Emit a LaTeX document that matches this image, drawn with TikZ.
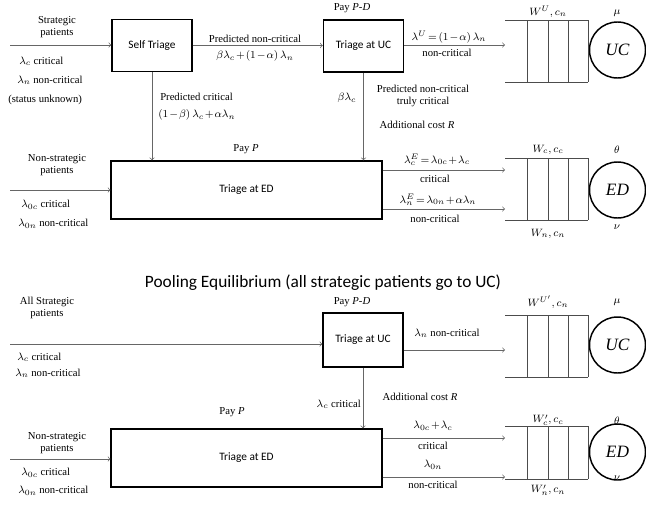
\documentclass[tikz,border=0pt]{standalone}
\usepackage{fontspec}
\setmainfont{Liberation Serif}
\newfontfamily\calibri{Carlito}
\usetikzlibrary{positioning}
\medmuskip=1.5mu
\thickmuskip=2.5mu

\begin{document}
\begin{tikzpicture}
  [x=0.75pt, y=-0.75pt,
   every node/.style={inner sep=0, align=center, font=\fontsize{8}{9.5}\selectfont},
   box/.style={draw, line width=1.1pt, font=\calibri\fontsize{8.5}{10}\selectfont, minimum width=60pt, minimum height=39pt},
   flow/.style={->, draw=black!60, line width=0.5pt},
   queue/.style={draw=black!70, line width=0.4pt},
   server/.style={draw, circle, line width=1.1pt, minimum size=42pt, font=\itshape\fontsize{13}{15}\selectfont}]

  \useasboundingbox (0,0) rectangle (646,507);

  % separating equilibrium
  \node[box] (self) at (152,45.5) {Self Triage};
  \node[box] (uc) at (363.5,46) {Triage at UC};
  \node[box, minimum width=203pt, minimum height=43.5pt] (ed) at (246.5,190) {Triage at ED};
  \node[server] (ucs) at (617.5,50) {UC};
  \node[server] (eds) at (617.5,190) {ED};

  \coordinate (sin) at (10,45);
  \coordinate (nin) at (10,190);
  \coordinate (uq) at (505,45);
  \coordinate (cq) at (505,170);
  \coordinate (nq) at (505,209);

  \draw[flow] (sin) -- (sin -| self.west);
  \draw[flow] (self.east) -- (self.east -| uc.west);
  \draw[flow] (uq -| uc.east) -- (uq);
  \draw[flow] (self.south) -- (self.south |- ed.north);
  \draw[flow] (uc.south) -- (uc.south |- ed.north);
  \draw[flow] (nin) -- (nin -| ed.west);
  \draw[flow] (cq -| ed.east) -- (cq);
  \draw[flow] (nq -| ed.east) -- (nq);

  \draw[queue] (505,20) -- (588,20) (505,82) -- (588,82);
  \foreach \qx in {527,548,568,588} \draw[queue] (\qx,20) -- (\qx,82);
  \draw[queue] (505,158) -- (588,158) (505,220) -- (588,220);
  \foreach \qx in {527,548,568,588} \draw[queue] (\qx,158) -- (\qx,220);

  \node (strat) at (57,27) {Strategic\\patients};
  \node[anchor=west] (lc) at (19,61) {$\lambda_c$ critical};
  \node[anchor=west] (ln) at (17,80) {$\lambda_n$ non-critical};
  \node[anchor=west] (unk) at (8,100) {(status unknown)};
  \node (pnc) at (255,39) {Predicted non-critical};
  \node (pncr) at (255,56) {$\beta\lambda_c+\left(1-\alpha\right)\lambda_n$};
  \node (paypd) at (352,8) {Pay \textit{P-D}};
  \node (lu) at (449,37) {$\lambda^U=\left(1-\alpha\right)\lambda_n$};
  \node (lunc) at (447,53) {non-critical};
  \node (wu) at (548,12) {$W^U, c_n$};
  \node (mu) at (617,13) {$\mu$};
  \node[anchor=west] (pc) at (160,97) {Predicted critical};
  \node[anchor=west] (pcr) at (158,115) {$\left(1-\beta\right)\lambda_c+\alpha\lambda_n$};
  \node (bl) at (347,98) {$\beta\lambda_c$};
  \node (tc) at (423,96) {Predicted non-critical\\truly critical};
  \node (cost) at (417,125) {Additional cost \textit{R}};
  \node (payp) at (246,149) {Pay \textit{P}};
  \node (nstrat) at (57,165) {Non-strategic\\patients};
  \node[anchor=west] (l0c) at (21,205) {$\lambda_{0c}$ critical};
  \node[anchor=west] (l0n) at (18,224) {$\lambda_{0n}$ non-critical};
  \node (lce) at (437,160) {$\lambda_c^E=\lambda_{0c}+\lambda_c$};
  \node (lcec) at (435,179) {critical};
  \node (lne) at (438,200) {$\lambda_n^E=\lambda_{0n}+\alpha\lambda_n$};
  \node (lnec) at (435,219) {non-critical};
  \node (wc) at (548,150) {$W_c, c_c$};
  \node (wn) at (548,234) {$W_n, c_n$};
  \node (th) at (617,150) {$\theta$};
  \node (nu) at (617,227) {$\nu$};

  \node (title) at (323,283) {\calibri\fontsize{13}{15}\selectfont Pooling Equilibrium (all strategic patients go to UC)};

  % pooling equilibrium
  \node[box, minimum height=40.5pt] (ucb) at (363,340) {Triage at UC};
  \node[box, minimum width=203pt, minimum height=43.5pt] (edb) at (246.5,458) {Triage at ED};
  \node[server] (ucsb) at (617.5,345) {UC};
  \node[server] (edsb) at (617.5,452) {ED};

  \coordinate (ain) at (10,344);
  \coordinate (bin) at (10,459);
  \coordinate (uqb) at (505,350);
  \coordinate (cqb) at (505,438);
  \coordinate (nqb) at (505,477);

  \draw[flow] (ain) -- (ain -| ucb.west);
  \draw[flow] (uqb -| ucb.east) -- (uqb);
  \draw[flow] (ucb.south) -- (ucb.south |- edb.north);
  \draw[flow] (bin) -- (bin -| edb.west);
  \draw[flow] (cqb -| edb.east) -- (cqb);
  \draw[flow] (nqb -| edb.east) -- (nqb);

  \draw[queue] (505,315) -- (588,315) (505,377) -- (588,377);
  \foreach \qx in {527,548,568,588} \draw[queue] (\qx,315) -- (\qx,377);
  \draw[queue] (505,426) -- (588,426) (505,479) -- (588,479);
  \foreach \qx in {527,548,568,588} \draw[queue] (\qx,426) -- (\qx,479);

  \node (astrat) at (47,308) {All Strategic\\patients};
  \node[anchor=west] (lcb) at (17,357) {$\lambda_c$ critical};
  \node[anchor=west] (lnb) at (15,373) {$\lambda_n$ non-critical};
  \node (paypdb) at (352,302) {Pay \textit{P-D}};
  \node (lnu) at (447,333) {$\lambda_n$ non-critical};
  \node (wub) at (548,302) {$W^{U'}, c_n$};
  \node (mub) at (617,302) {$\mu$};
  \node[anchor=east] (lcc) at (361,404) {$\lambda_c$ critical};
  \node (costb) at (420,397) {Additional cost \textit{R}};
  \node (paypb) at (232,412) {Pay \textit{P}};
  \node (nstratb) at (57,443) {Non-strategic\\patients};
  \node[anchor=west] (l0cb) at (21,473) {$\lambda_{0c}$ critical};
  \node[anchor=west] (l0nb) at (18,491) {$\lambda_{0n}$ non-critical};
  \node (lceb) at (433,426) {$\lambda_{0c}+\lambda_c$};
  \node (lcecb) at (433,446) {critical};
  \node (lneb) at (433,465) {$\lambda_{0n}$};
  \node (lnecb) at (433,485) {non-critical};
  \node (wcb) at (548,420) {$W'_c, c_c$};
  \node (wnb) at (548,490) {$W'_n, c_n$};
  \node (thb) at (617,421) {$\theta$};
  \node (nub) at (617,478) {$\nu$};

\end{tikzpicture}
\end{document}
